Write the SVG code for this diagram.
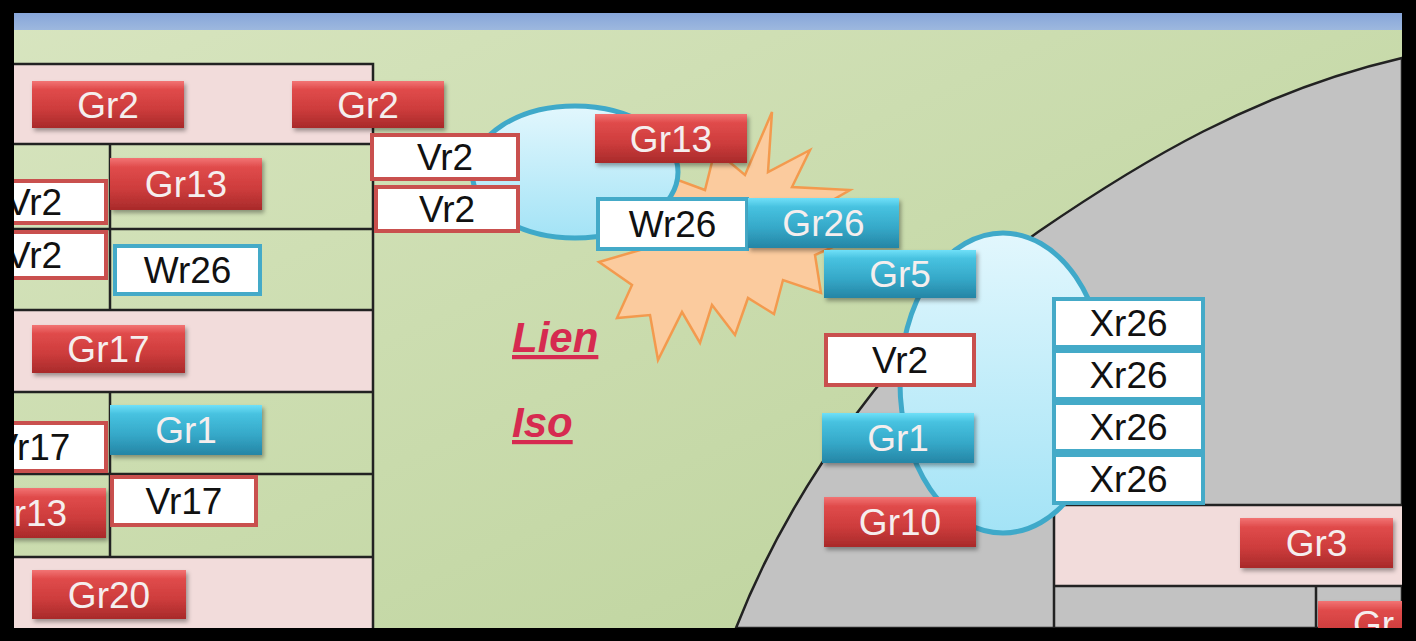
<svg xmlns="http://www.w3.org/2000/svg" width="1416" height="641" viewBox="0 0 1416 641">
<defs>
<linearGradient id="bg" x1="0" y1="0" x2="1" y2="1">
<stop offset="0" stop-color="#D8E5C0"/><stop offset="1" stop-color="#BAD198"/>
</linearGradient>
<linearGradient id="red" x1="0" y1="0" x2="0" y2="1">
<stop offset="0" stop-color="#F27474"/><stop offset="0.18" stop-color="#E04B4B"/><stop offset="0.6" stop-color="#CD3C3C"/><stop offset="1" stop-color="#A82A2A"/>
</linearGradient>
<linearGradient id="teal" x1="0" y1="0" x2="0" y2="1">
<stop offset="0" stop-color="#70E0F8"/><stop offset="0.18" stop-color="#47C2E0"/><stop offset="0.6" stop-color="#35A8C8"/><stop offset="1" stop-color="#2585A5"/>
</linearGradient>
<linearGradient id="bubble" x1="0" y1="0" x2="0" y2="1">
<stop offset="0" stop-color="#E2F7FD"/><stop offset="1" stop-color="#A3E3F6"/>
</linearGradient>
<linearGradient id="strip" x1="0" y1="0" x2="0" y2="1">
<stop offset="0" stop-color="#87A6DA"/><stop offset="1" stop-color="#9DB8DE"/>
</linearGradient>
<filter id="sh" x="-10%" y="-20%" width="125%" height="150%">
<feDropShadow dx="2" dy="3" stdDeviation="2" flood-color="#000" flood-opacity="0.35"/>
</filter>
</defs>
<style>
.btr{fill:url(#red);filter:url(#sh)}
.btt{fill:url(#teal);filter:url(#sh)}
.wr{fill:#fff;stroke:#C9504E;stroke-width:4}
.wt{fill:#fff;stroke:#44AAC8;stroke-width:4}
.tb{font-family:"Liberation Sans",Arial,sans-serif;font-size:37px;fill:#F5EEEE;text-anchor:middle}
.tk{font-family:"Liberation Sans",Arial,sans-serif;font-size:37px;fill:#111;text-anchor:middle}
.ln{stroke:#222;stroke-width:2.5;fill:none}
.lab{font-family:"Liberation Sans",Arial,sans-serif;font-size:42px;font-weight:bold;font-style:italic;fill:#D62A50;text-decoration:underline}
</style>

<g id="background">
<rect x="0" y="0" width="1416" height="641" fill="url(#bg)"/>
<rect x="14" y="13" width="1388" height="17" fill="url(#strip)"/>
<rect x="14" y="64" width="359" height="80" fill="#F2DCDB"/>
<rect x="14" y="310" width="359" height="82" fill="#F2DCDB"/>
<rect x="14" y="557" width="359" height="71" fill="#F2DCDB"/>
<path class="ln" d="M14 64H373V628M14 144H373M14 229H373M14 310H373M14 392H373M14 474H373M14 557H373M110 144V310M110 392V557"/>
<path d="M736 628C790 490 900 330 1038 232C1140 162 1255 92 1402 58L1402 628Z" fill="#C2C2C2" stroke="#222" stroke-width="2.5"/>
<rect x="1054" y="505" width="348" height="81" fill="#F2DCDB"/>
<path class="ln" d="M1054 505H1402M1054 586H1402M1054 505V628M1316 586V628"/>
</g>

<g id="starburst">
<polygon points="772,112 768,172 810,150 792,187 850,190 812,212 860,235 815,255 821,293 783,280 774,314 748,298 735,335 712,305 700,343 682,312 658,360 650,315 617,318 632,285 599,262 640,250 615,220 660,210 678,180 705,190 715,150 745,175" fill="#FBCB9E" stroke="#F39A4E" stroke-width="2.5"/>
</g>

<g id="bubble1"><ellipse cx="575" cy="172" rx="103" ry="66" fill="url(#bubble)" stroke="#3FA9C9" stroke-width="5"/></g>
<g id="bubble2"><ellipse cx="1003" cy="383" rx="103" ry="150" fill="url(#bubble)" stroke="#3FA9C9" stroke-width="5"/></g>

<g id="connectors"/>

<g id="n-gr2-a"><rect class="btr" x="32" y="81" width="152" height="47"/><text class="tb" x="108" y="118">Gr2</text></g>
<g id="n-gr2-b"><rect class="btr" x="292" y="81" width="152" height="47"/><text class="tb" x="368" y="118">Gr2</text></g>
<g id="n-vr2-a"><rect class="wr" x="372" y="135" width="146" height="44"/><text class="tk" x="445" y="170">Vr2</text></g>
<g id="n-vr2-b"><rect class="wr" x="376" y="187" width="142" height="44"/><text class="tk" x="447" y="222">Vr2</text></g>
<g id="n-vr2-c"><rect class="wr" x="-38" y="181" width="144" height="42"/><text class="tk" x="34" y="215">Vr2</text></g>
<g id="n-vr2-d"><rect class="wr" x="-38" y="232" width="144" height="46"/><text class="tk" x="34" y="268">Vr2</text></g>
<g id="n-gr13-a"><rect class="btr" x="110" y="158" width="152" height="52"/><text class="tb" x="186" y="197">Gr13</text></g>
<g id="n-wr26-a"><rect class="wt" x="115" y="246" width="145" height="48"/><text class="tk" x="187.5" y="283">Wr26</text></g>
<g id="n-gr17"><rect class="btr" x="32" y="325" width="153" height="48"/><text class="tb" x="108.5" y="362">Gr17</text></g>
<g id="n-gr1-a"><rect class="btt" x="110" y="405" width="152" height="50"/><text class="tb" x="186" y="443">Gr1</text></g>
<g id="n-vr17-a"><rect class="wr" x="-30" y="423" width="136" height="48"/><text class="tk" x="32" y="460">Vr17</text></g>
<g id="n-vr17-b"><rect class="wr" x="112" y="477" width="144" height="48"/><text class="tk" x="184" y="514">Vr17</text></g>
<g id="n-gr13-b"><rect class="btr" x="-40" y="488" width="146" height="50"/><text class="tb" x="26" y="526">Gr13</text></g>
<g id="n-gr20"><rect class="btr" x="32" y="570" width="154" height="49"/><text class="tb" x="109" y="608">Gr20</text></g>

<g id="n-gr13-c"><rect class="btr" x="595" y="114" width="152" height="49"/><text class="tb" x="671" y="152">Gr13</text></g>
<g id="n-wr26-b"><rect class="wt" x="598" y="199" width="149" height="50"/><text class="tk" x="672.5" y="237">Wr26</text></g>
<g id="n-gr26"><rect class="btt" x="748" y="198" width="151" height="50"/><text class="tb" x="823.5" y="236">Gr26</text></g>
<g id="n-gr5"><rect class="btt" x="824" y="250" width="152" height="48"/><text class="tb" x="900" y="287">Gr5</text></g>
<g id="n-vr2-e"><rect class="wr" x="826" y="335" width="148" height="50"/><text class="tk" x="900" y="373">Vr2</text></g>
<g id="n-gr1-b"><rect class="btt" x="822" y="413" width="152" height="50"/><text class="tb" x="898" y="451">Gr1</text></g>
<g id="n-gr10"><rect class="btr" x="824" y="497" width="152" height="50"/><text class="tb" x="900" y="535">Gr10</text></g>
<g id="n-xr26-a"><rect class="wt" x="1054" y="299" width="149" height="48"/><text class="tk" x="1128.5" y="336">Xr26</text></g>
<g id="n-xr26-b"><rect class="wt" x="1054" y="351" width="149" height="48"/><text class="tk" x="1128.5" y="388">Xr26</text></g>
<g id="n-xr26-c"><rect class="wt" x="1054" y="403" width="149" height="48"/><text class="tk" x="1128.5" y="440">Xr26</text></g>
<g id="n-xr26-d"><rect class="wt" x="1054" y="455" width="149" height="48"/><text class="tk" x="1128.5" y="492">Xr26</text></g>
<g id="n-gr3"><rect class="btr" x="1240" y="518" width="153" height="50"/><text class="tb" x="1316.5" y="556">Gr3</text></g>
<g id="n-gr-partial"><rect class="btr" x="1318" y="601" width="160" height="50"/><text class="tb" x="1353" y="637" style="text-anchor:start">Gr</text></g>

<g id="labels">
<text class="lab" x="512" y="352">Lien</text>
<text class="lab" x="512" y="437">Iso</text>
</g>

<g id="frame" fill="#000">
<rect x="0" y="0" width="1416" height="13"/>
<rect x="0" y="0" width="14" height="641"/>
<rect x="1402" y="0" width="14" height="641"/>
<rect x="0" y="628" width="1416" height="13"/>
</g>
</svg>
